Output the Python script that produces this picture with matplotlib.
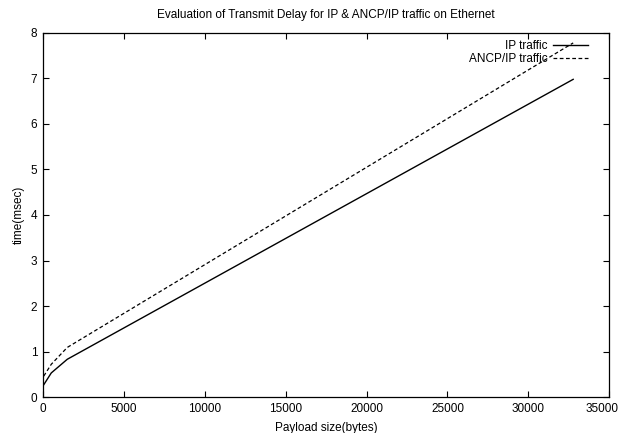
import matplotlib
matplotlib.use("Agg")
import matplotlib.pyplot as plt
import matplotlib.transforms as mtransforms

payload = [46, 512, 1500, 32768]
ip_time = [0.27, 0.53, 0.83, 6.98]
ancp_time = [0.46, 0.72, 1.09, 7.78]

plt.rcParams['font.family'] = ['Liberation Sans Narrow', 'Liberation Sans', 'DejaVu Sans']

fig = plt.figure(figsize=(6.23, 4.33), dpi=100)
ax = fig.add_axes([0.069, 0.083, 0.909, 0.841])

ax.plot(payload, ip_time, color="black", lw=1.0, label="IP traffic")
ax.plot(payload, ancp_time, color="black", lw=0.9, linestyle=(0, (3, 2)), label="ANCP/IP traffic")

ax.set_xlim(0, 35000)
ax.set_ylim(0, 8)
ax.set_xticks(range(0, 35001, 5000))
ax.set_yticks(range(0, 9))
ax.tick_params(direction="in", length=4, width=0.8, top=True, right=True, labelsize=8.5, pad=4)
for s in ax.spines.values():
    s.set_linewidth(0.9)

# keep the last x label inside the picture
last = ax.get_xticklabels()[-1]
last.set_transform(last.get_transform() + mtransforms.ScaledTranslation(-7 / 100, 0, fig.dpi_scale_trans))

ax.set_xlabel("Payload size(bytes)", fontsize=8.5, labelpad=5)
ax.set_ylabel("time(msec)", fontsize=8.5, labelpad=4)
ax.set_title("Evaluation of Transmit Delay for IP & ANCP/IP traffic on Ethernet", fontsize=8.5, pad=11)

ax.legend(loc="upper right", bbox_to_anchor=(0.975, 1.0), frameon=False, markerfirst=False, fontsize=8.5,
          handlelength=3.0, handletextpad=0.4, labelspacing=0.1, borderaxespad=0.2)

fig.savefig("out.png", dpi=100)
